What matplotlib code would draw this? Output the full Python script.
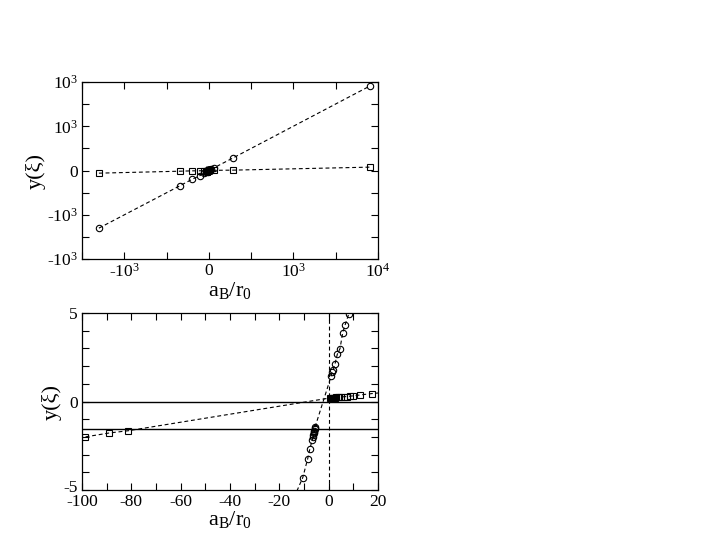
import numpy as np
import matplotlib
matplotlib.use("Agg")
import matplotlib.pyplot as plt
import matplotlib.transforms as mtransforms
from matplotlib.ticker import MultipleLocator, FixedLocator, FixedFormatter

plt.rcParams['font.family'] = ['Liberation Serif', 'DejaVu Serif']
plt.rcParams['mathtext.fontset'] = 'custom'
plt.rcParams['mathtext.rm'] = 'Liberation Serif'
plt.rcParams['mathtext.it'] = 'Liberation Serif:italic'
plt.rcParams['axes.unicode_minus'] = False

# ---- data ----
circle_x = [-6500, -1726, -988, -553, -300, -150, -60, -30, -10.5, -8.5, -7.6,
            -6.6, -6.4, -6.2, -6.0, -5.9, -5.8, -5.7, -5.6, -5.5,
            0.97, 1.5, 1.9, 2.6, 3.5, 4.6, 5.7, 6.7, 8.2, 20, 60, 150, 300, 1410, 9524]
circle_y = [-651, -174, -99, -60, -33, -20, -14, -10.5, -4.3, -3.23, -2.66,
            -2.15, -2.0, -1.9, -1.8, -1.72, -1.65, -1.57, -1.5, -1.44,
            1.42, 1.67, 1.8, 2.14, 2.67, 2.99, 3.89, 4.34, 4.97, 7.0, 10.0, 18.0, 30.0, 140, 955]

square_x = [-6500, -1726, -988, -553, -300, -150, -98.7, -89.0, -81.2,
            0.55, 0.9, 1.2, 1.6, 2.0, 2.5, 3.0, 3.6, 4.3, 5.2, 6.2, 7.3, 8.5, 10.0, 12.7, 17.7,
            60, 300, 1410, 9524]
square_y = [-30, -8, -4, -3.2, -2.7, -2.35, -2.0, -1.78, -1.65,
            0.2, 0.2, 0.21, 0.21, 0.22, 0.22, 0.23, 0.24, 0.25, 0.26, 0.27, 0.28, 0.3, 0.32, 0.37, 0.45,
            1.0, 2.0, 4.0, 38]

hline_values = [0.0, -1.5708]
vline_values = [0.0]

top_xticks = [-5000, 0, 5000, 10000]
top_xticklabels = ['-10$^{3}$', '0', '10$^{3}$', '10$^{4}$']
top_yticks = [-1000, -500, 0, 500, 1000]
top_yticklabels = ['-10$^{3}$', '-10$^{3}$', '0', '10$^{3}$', '10$^{3}$']

bot_xticks = [-100, -80, -60, -40, -20, 0, 20]
bot_yticks = [-5, 0, 5]

# ---- figure ----
W, H = 705, 545
fig = plt.figure(figsize=(W / 100, H / 100), dpi=100)

def ax_rect(l, t, r, b):
    return [l / W, 1 - b / H, (r - l) / W, (b - t) / H]

ax1 = fig.add_axes(ax_rect(82, 82, 378, 259))
ax2 = fig.add_axes(ax_rect(82, 313, 378, 490))

line_kw = dict(color='black', linestyle=(0, (3.5, 2.5)), linewidth=0.8,
               markerfacecolor='none', markeredgecolor='black', markeredgewidth=0.8)

for ax in (ax1, ax2):
    ax.plot(circle_x, circle_y, marker='o', markersize=4.6, **line_kw)
    ax.plot(square_x, square_y, marker='s', markersize=4.2, **line_kw)
    ax.tick_params(which='both', direction='in', top=True, right=True,
                   length=5, width=0.8, labelsize=12.5, pad=3)
    for sp in ax.spines.values():
        sp.set_linewidth(0.9)

# top panel
ax1.set_xlim(-7500, 10000)
ax1.set_ylim(-1000, 1000)
ax1.xaxis.set_major_locator(FixedLocator(top_xticks))
ax1.xaxis.set_major_formatter(FixedFormatter(top_xticklabels))
ax1.xaxis.set_minor_locator(MultipleLocator(2500))
ax1.yaxis.set_major_locator(FixedLocator(top_yticks))
ax1.yaxis.set_major_formatter(FixedFormatter(top_yticklabels))
ax1.yaxis.set_minor_locator(MultipleLocator(250))
ax1.set_xlabel(r'a$_{\mathrm{B}}$/r$_{0}$', fontsize=16, labelpad=-1)
ax1.set_ylabel('y(ξ)', fontsize=16, labelpad=1)

# bottom panel
for hv in hline_values:
    ax2.axhline(hv, color='black', linewidth=1.0)
for vv in vline_values:
    ax2.axvline(vv, color='black', linewidth=0.8, linestyle=(0, (3.5, 2.5)))
ax2.set_xlim(-100, 20)
ax2.set_ylim(-5, 5)
ax2.set_xticks(bot_xticks)
ax2.xaxis.set_minor_locator(MultipleLocator(10))
ax2.set_yticks(bot_yticks)
ax2.yaxis.set_minor_locator(MultipleLocator(1))
ax2.set_xlabel(r'a$_{\mathrm{B}}$/r$_{0}$', fontsize=16, labelpad=-1)
ax2.set_ylabel('y(ξ)', fontsize=16, labelpad=1)

# nudge the bottom "-5" label up a little, as in the reference
fig.canvas.draw()
lbl = ax2.get_yticklabels()[0]
lbl.set_transform(lbl.get_transform() + mtransforms.ScaledTranslation(0, 3 / 72, fig.dpi_scale_trans))

fig.savefig('out.png', dpi=100)
